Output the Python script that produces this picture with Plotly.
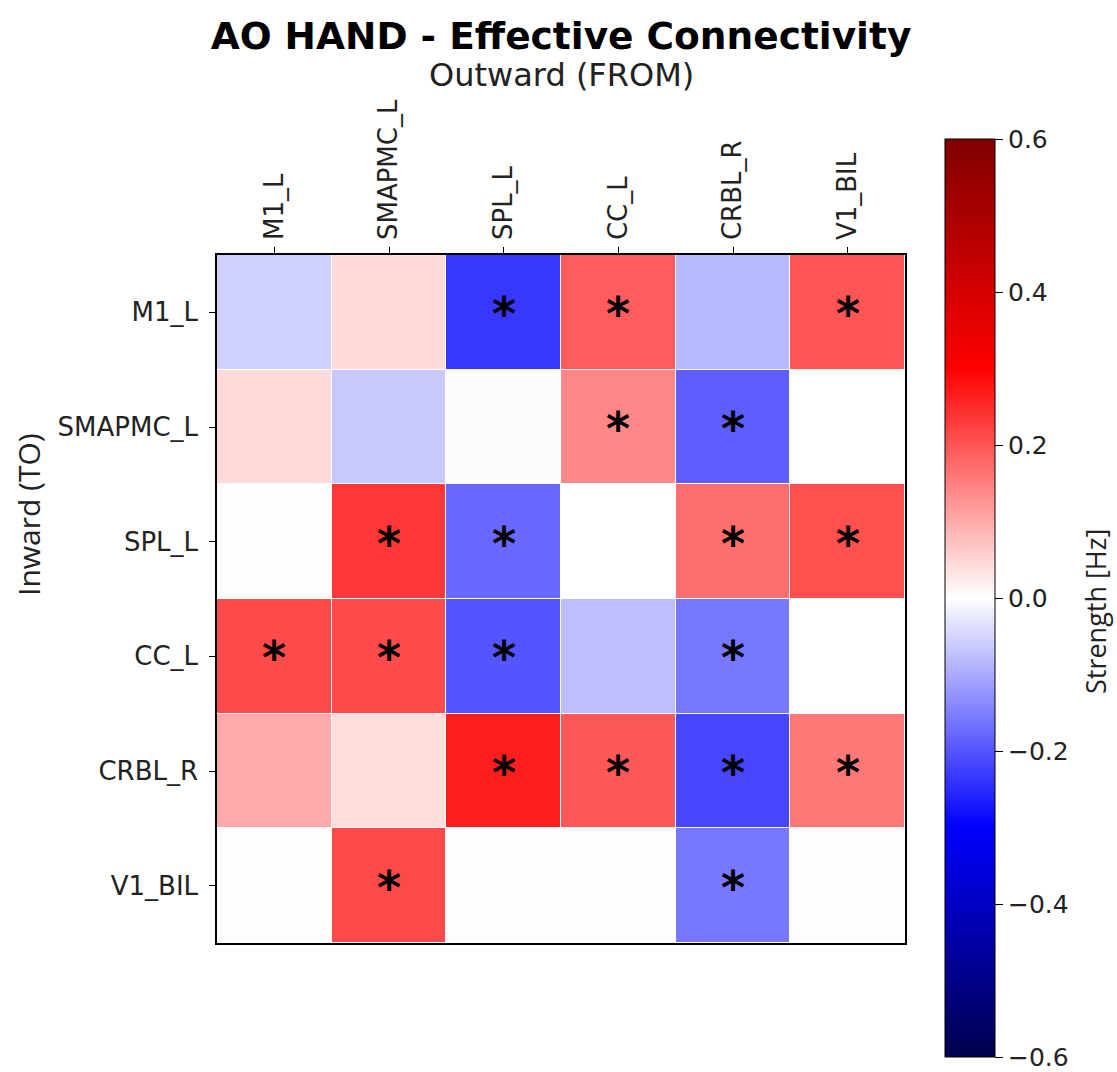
import plotly.graph_objects as go

regions = ["M1_L", "SMAPMC_L", "SPL_L", "CC_L", "CRBL_R", "V1_BIL"]

# rows = Inward (TO), columns = Outward (FROM)
row_m1_l = [-0.055, 0.044, -0.235, 0.190, -0.082, 0.200]
row_smapmc_l = [0.044, -0.065, -0.003, 0.141, -0.190, 0.000]
row_spl_l = [0.002, 0.235, -0.176, 0.000, 0.170, 0.206]
row_cc_l = [0.212, 0.212, -0.200, -0.077, -0.159, 0.000]
row_crbl_r = [0.100, 0.040, 0.265, 0.196, -0.218, 0.159]
row_v1_bil = [0.002, 0.215, 0.001, 0.003, -0.160, 0.002]

sig_m1_l = [0, 0, 1, 1, 0, 1]
sig_smapmc_l = [0, 0, 0, 1, 1, 0]
sig_spl_l = [0, 1, 1, 0, 1, 1]
sig_cc_l = [1, 1, 1, 0, 1, 0]
sig_crbl_r = [0, 0, 1, 1, 1, 1]
sig_v1_bil = [0, 1, 0, 0, 1, 0]

cbar_ticks = [-0.6, -0.4, -0.2, 0.0, 0.2, 0.4, 0.6]

z = [row_m1_l, row_smapmc_l, row_spl_l, row_cc_l, row_crbl_r, row_v1_bil]
sig = [sig_m1_l, sig_smapmc_l, sig_spl_l, sig_cc_l, sig_crbl_r, sig_v1_bil]

seismic = [
    [0.0, "rgb(0,0,77)"],
    [0.25, "rgb(0,0,255)"],
    [0.5, "rgb(255,255,255)"],
    [0.75, "rgb(255,0,0)"],
    [1.0, "rgb(128,0,0)"],
]

FONT = "DejaVu Sans"

fig = go.Figure()
fig.add_trace(go.Heatmap(
    z=z, x=regions, y=regions,
    colorscale=seismic, zmin=-0.6, zmax=0.6,
    xgap=1, ygap=1,
    colorbar=dict(
        x=(945 - 217) / 688, xanchor="left", xpad=0, ypad=0,
        y=(943 - 598) / 688, yanchor="middle",
        lenmode="pixels", len=918,
        thickness=50, thicknessmode="pixels",
        outlinewidth=1, outlinecolor="black",
        ticks="outside", ticklen=8, tickwidth=1, tickcolor="black",
        tickvals=cbar_ticks, tickformat=".1f",
        tickfont=dict(family=FONT, size=25, color="#222"),
    ),
    hoverinfo="skip",
))

annotations = []
for i, r in enumerate(regions):
    for j, c in enumerate(regions):
        if sig[i][j]:
            annotations.append(dict(
                x=j, y=i, xref="x", yref="y", text="<b>*</b>", showarrow=False,
                font=dict(family=FONT, size=46, color="black"),
                yshift=-2,
            ))

annotations.append(dict(
    text="Outward (FROM)", x=0.5, y=(943 - 75) / 688, xref="paper", yref="paper",
    showarrow=False, font=dict(family=FONT, size=32, color="#222"),
    xanchor="center", yanchor="middle",
))
annotations.append(dict(
    text="Inward (TO)", x=(28 - 217) / 688, y=(943 - 515) / 688, xref="paper", yref="paper",
    showarrow=False, textangle=-90, font=dict(family="Open Sans", size=30, color="#222"),
    xanchor="center", yanchor="middle",
))
annotations.append(dict(
    text="Strength [Hz]", x=(1095 - 217) / 688, y=(943 - 612) / 688, xref="paper", yref="paper",
    showarrow=False, textangle=-90, font=dict(family="Open Sans", size=27, color="#222"),
    xanchor="center", yanchor="middle",
))

fig.update_layout(
    width=1117, height=1072, autosize=False,
    margin=dict(l=217, r=212, t=255, b=129),
    paper_bgcolor="white", plot_bgcolor="white",
    title=dict(
        text="<b>AO HAND - Effective Connectivity</b>",
        x=(217 + 905) / 2 / 1117, xanchor="center",
        y=1 - 36 / 1072, yanchor="middle",
        font=dict(family=FONT, size=37.5, color="black"),
    ),
    annotations=annotations,
    font=dict(family=FONT),
)
fig.update_xaxes(
    type="category", categoryorder="array", categoryarray=regions,
    side="top", tickangle=-90, ticks="outside", ticklen=6, tickcolor="black",
    showline=True, linecolor="black", linewidth=1.5, mirror=True,
    showgrid=False, zeroline=False, ticklabelstandoff=2,
    tickfont=dict(family=FONT, size=26, color="#222"),
)
fig.update_yaxes(
    type="category", categoryorder="array", categoryarray=regions,
    autorange="reversed", ticks="outside", ticklen=6, tickcolor="black",
    showline=True, linecolor="black", linewidth=1.5, mirror=True,
    showgrid=False, zeroline=False, ticklabelstandoff=6,
    tickfont=dict(family=FONT, size=26, color="#222"),
)

fig.write_html("out.html")
